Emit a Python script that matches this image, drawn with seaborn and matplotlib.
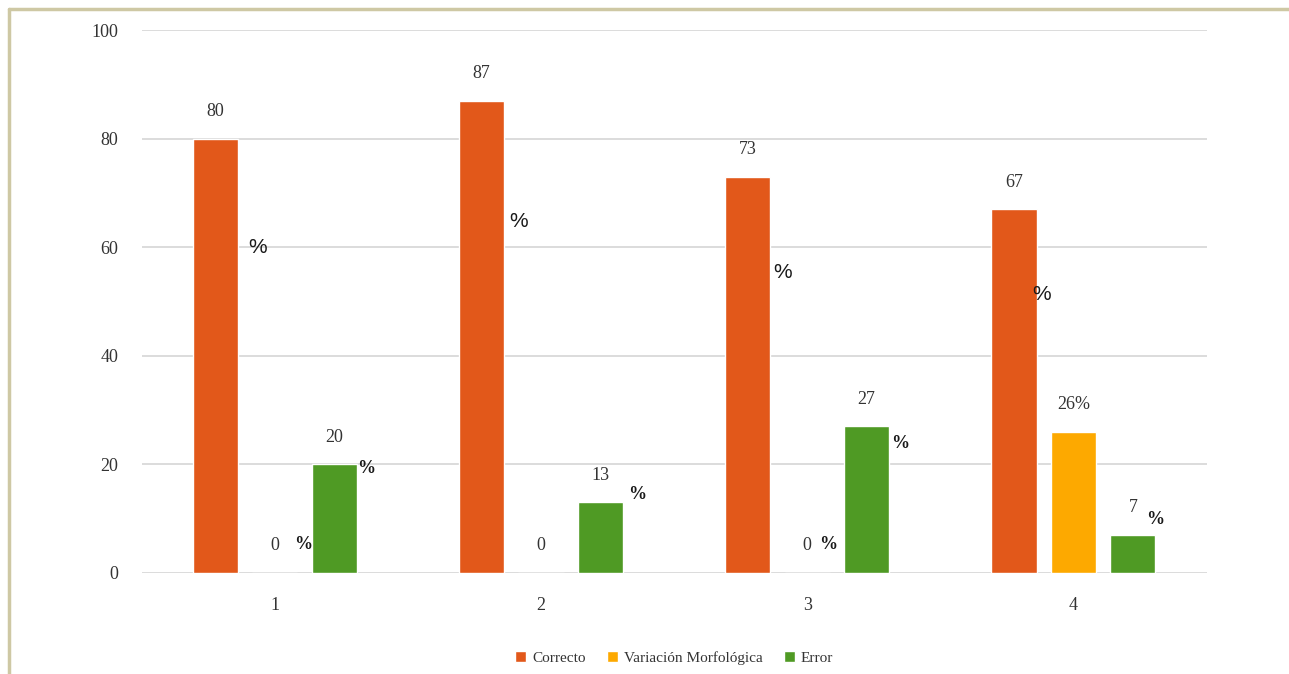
import matplotlib
matplotlib.use("Agg")
import matplotlib.pyplot as plt
import seaborn as sns
import pandas as pd
from matplotlib.lines import Line2D

# ---- data -------------------------------------------------------------
grupos = ["1", "2", "3", "4"]
series = ["Correcto", "Variación Morfológica", "Error"]
correcto = [80, 87, 73, 67]
variacion = [0, 0, 0, 26]
error = [20, 13, 27, 7]
colores = ["#E2581A", "#FDA900", "#4F9A24"]
yticks = [0, 20, 40, 60, 80, 100]

# where the "%" sign sits relative to each bar's top centre (pixels);
# None = no sign, "inline" = sign glued to the number
pct_pos = {
    "Correcto": [(42, -109), (37, -121), (35, -96), (28, -85)],
    "Variación Morfológica": [(28, 28), None, (21, 28), "inline"],
    "Error": [(32, -4), (37, 8), (34, -17), (22, 15)],
}

valores = {"Correcto": correcto, "Variación Morfológica": variacion, "Error": error}
df = pd.DataFrame(
    [(g, s, valores[s][i]) for s in series for i, g in enumerate(grupos)],
    columns=["grupo", "serie", "valor"],
)

sns.set_theme(style="white")
plt.rcParams["font.family"] = ["Liberation Serif", "DejaVu Serif"]

fig = plt.figure(figsize=(12.89, 6.74), dpi=100)
fig.patch.set_facecolor("white")
ax = fig.add_axes([0.110, 0.150, 0.826, 0.805])

sns.barplot(
    data=df, x="grupo", y="valor", hue="serie",
    order=grupos, hue_order=series, palette=colores,
    width=0.67, gap=0.24, saturation=1, errorbar=None, ax=ax,
)

ax.set_ylim(0, 100)
ax.set_xlim(-0.5, len(grupos) - 0.5)
ax.set_yticks(yticks)
ax.yaxis.grid(True, color="#d9d9d9", linewidth=1.3)
ax.set_axisbelow(True)
for sp in ax.spines.values():
    sp.set_visible(False)
ax.set_xlabel("")
ax.set_ylabel("")
ax.tick_params(axis="y", length=0, pad=17, labelsize=13, labelcolor="#333333")
ax.tick_params(axis="x", length=0, pad=17, labelsize=13, labelcolor="#333333")

# value labels and percent signs
for serie, cont in zip(series, ax.containers):
    for i, bar in enumerate(cont):
        cx = bar.get_x() + bar.get_width() / 2
        top = bar.get_height()
        val = valores[serie][i]
        pos = pct_pos[serie][i]
        txt = f"{val:g}%" if pos == "inline" else f"{val:g}"
        ax.annotate(txt, (cx, top), xytext=(0, 27), textcoords="offset pixels",
                    ha="center", va="center", fontsize=13, color="#333333")
        if isinstance(pos, tuple):
            if serie == "Correcto":
                kw = dict(fontsize=15, family=["Liberation Sans", "DejaVu Sans"])
            else:
                kw = dict(fontsize=13, fontweight="bold")
            ax.annotate("%", (cx, top), xytext=pos, textcoords="offset pixels",
                        ha="center", va="center", color="#1a1a1a", **kw)

handles, labels = ax.get_legend_handles_labels()
ax.legend(handles, labels, loc="center", bbox_to_anchor=(0.5, -0.157), ncol=3,
          frameon=False, fontsize=11, handlelength=0.7, handleheight=0.7,
          handletextpad=0.4, columnspacing=1.4, labelcolor="#333333")

# frame around the figure (top and left edges)
W, H = 1289, 674
edge = "#CEC8A4"
fig.add_artist(Line2D([9 / W, 9 / W], [0, 1 - 9 / H], transform=fig.transFigure,
                      color=edge, linewidth=2.5))
fig.add_artist(Line2D([9 / W, 1], [1 - 9 / H, 1 - 9 / H], transform=fig.transFigure,
                      color=edge, linewidth=2.5))

fig.savefig("out.png", dpi=100, facecolor="white")
